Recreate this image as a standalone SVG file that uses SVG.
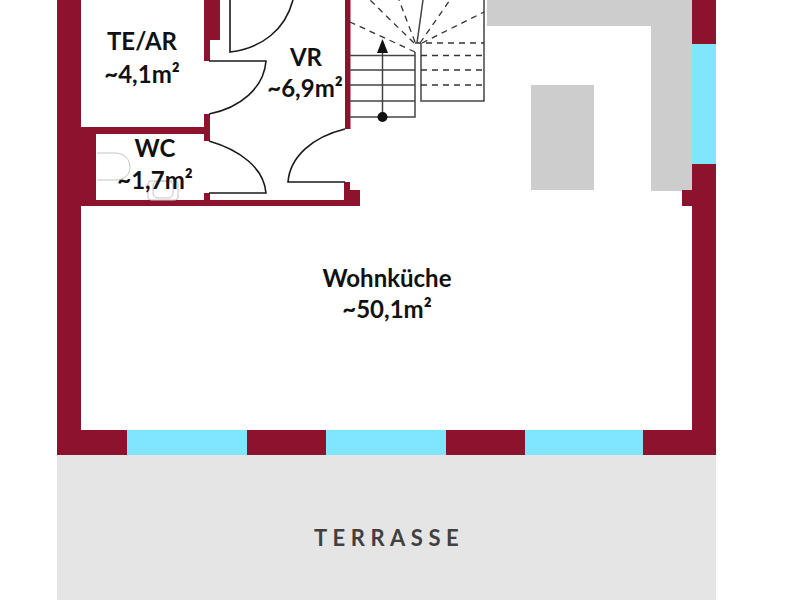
<svg xmlns="http://www.w3.org/2000/svg" width="800" height="600" viewBox="0 0 800 600">
<style>
.wall{fill:#8b132e}
.win{fill:#80e5ff}
.grey{fill:#cdcdcd}
.door{fill:none;stroke:#1a1a1a;stroke-width:1.6}
.step{fill:none;stroke:#444;stroke-width:1.5}
.dash{fill:none;stroke:#333;stroke-width:1.3;stroke-dasharray:6 5}
.fix{fill:none;stroke:#c4c4c4;stroke-width:1}
text{font-family:Lato,"Open Sans",sans-serif;font-weight:700;fill:#111;text-anchor:middle;font-size:24px}
</style>
<rect width="800" height="600" fill="#fff"/>
<g id="terrace"><rect x="57" y="455" width="659" height="145" fill="#e5e5e5"/></g>
<g id="kitchen">
<path class="grey" d="M487 0H692V191H651V26H487Z"/>
<rect class="grey" x="531" y="85" width="63" height="105"/>
</g>
<g id="walls">
<rect class="wall" x="57" y="0" width="24" height="455"/>
<rect class="wall" x="81" y="127" width="124" height="7"/>
<rect class="wall" x="81" y="134" width="15" height="66"/>
<rect class="wall" x="81" y="200" width="279" height="6"/>
<rect class="wall" x="204" y="0" width="16" height="40"/>
<rect class="wall" x="204" y="40" width="6" height="21"/>
<rect class="wall" x="204" y="114" width="6" height="27"/>
<rect class="wall" x="200" y="127" width="4" height="7"/>
<rect class="wall" x="204" y="193" width="6" height="7"/>
<rect class="wall" x="345" y="0" width="5.500" height="129"/>
<rect class="wall" x="344" y="182" width="6" height="18"/>
<rect class="wall" x="350" y="190" width="10" height="16"/>
<rect class="wall" x="692" y="0" width="24" height="44"/>
<rect class="wall" x="692" y="164" width="24" height="266"/>
<rect class="wall" x="682" y="190" width="10" height="16"/>
<rect class="wall" x="57" y="430" width="70" height="25"/>
<rect class="wall" x="247" y="430" width="79" height="25"/>
<rect class="wall" x="446" y="430" width="79" height="25"/>
<rect class="wall" x="643" y="430" width="73" height="25"/>
</g>
<g id="windows">
<rect class="win" x="692" y="44" width="24" height="120"/>
<rect class="win" x="127" y="430" width="120" height="25"/>
<rect class="win" x="326" y="430" width="120" height="25"/>
<rect class="win" x="525" y="430" width="118" height="25"/>
</g>
<g id="fixtures">
<path class="fix" d="M97 153H115C125 153 130 160 130 167C130 174 125 180 115 180H97"/>
<rect class="fix" x="148" y="181" width="30" height="19" rx="3"/>
<rect class="fix" x="153" y="181" width="20" height="17" rx="5"/>
</g>
<g id="connectors">
<path class="door" d="M230 0V52C262 48 285 30 293 0"/>
<path class="door" d="M209 61H266C264 88 240 108 209 114"/>
<path class="door" d="M209 141C240 150 264 168 266 193H209"/>
<path class="door" d="M345 129C312 137 290 157 288 182H345"/>
<path class="step" d="M350 55.500H415M350 70H415M350 85H415M350 101H415M350 117H415V52"/>
<path class="step" d="M421 43V101H484V0"/>
<path class="dash" d="M415 43H484M421 55.500H484M421 70H484M421 85H484"/>
<path class="dash" d="M415 52L350 22M414 43L370 0M415 42L399 0M420 43L450 0M422 43L484 12"/>
<path class="step" d="M417 43L423 0"/>
<path class="step" d="M382.500 117V50"/>
<path d="M382.500 39L388 53H377Z" fill="#111"/>
<circle cx="382.500" cy="117" r="5" fill="#111"/>
</g>
<g id="labels">
<text x="142" y="50">TE/AR</text>
<text x="142" y="83">~4,1m²</text>
<text x="155" y="157">WC</text>
<text x="155" y="189">~1,7m²</text>
<text x="306" y="66">VR</text>
<text x="305" y="97">~6,9m²</text>
<text x="387" y="287">Wohnküche</text>
<text x="387" y="318">~50,1m²</text>
<text x="389" y="546" style="letter-spacing:5.500px;font-size:22px;fill:#404040">TERRASSE</text>
</g>
</svg>
